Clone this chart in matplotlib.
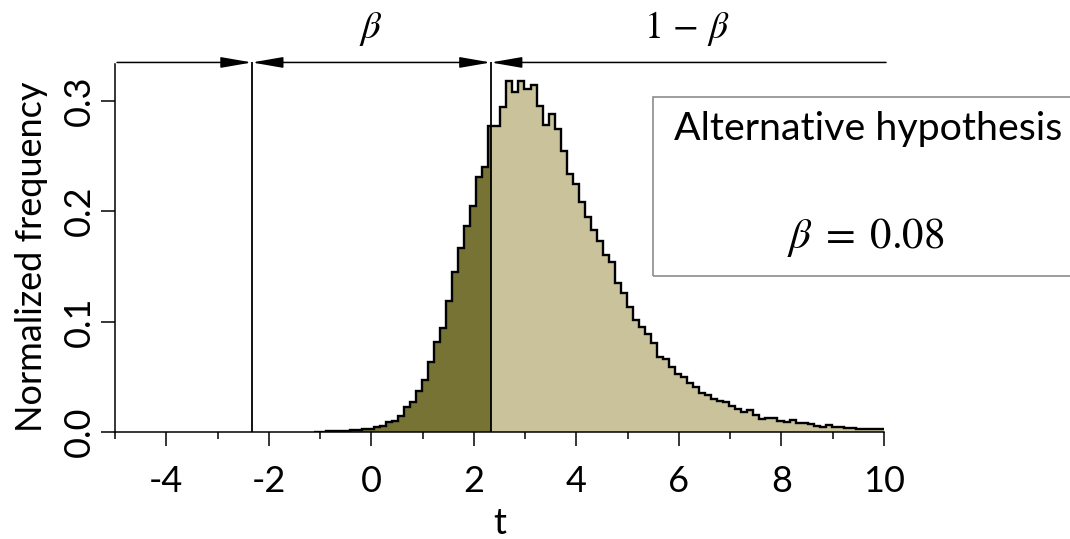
import numpy as np
import matplotlib
matplotlib.use("Agg")
import matplotlib.pyplot as plt
from matplotlib.patches import Rectangle

# ---- data ----
bin_start = -1.125
bin_width = 0.1175
freq = [0.0003, 0.0003, 0.0005, 0.0005, 0.0008, 0.0008,
        0.0015, 0.0015, 0.0024, 0.0024,
        0.0048, 0.0050, 0.0088, 0.0103, 0.0145, 0.0224, 0.0275, 0.0375, 0.0471, 0.0635,
        0.0819, 0.0946, 0.1188, 0.1451, 0.1665, 0.1868, 0.2043, 0.2306, 0.2400,
        0.2768, 0.2768, 0.2940, 0.3176, 0.3080, 0.3176, 0.3110, 0.3140, 0.2956, 0.2777,
        0.2880, 0.2744, 0.2550, 0.2339, 0.2251, 0.2088, 0.1952, 0.1834, 0.1734,
        0.1605, 0.1544, 0.1354, 0.1263, 0.1136, 0.1015, 0.0955, 0.0888, 0.0810, 0.0677,
        0.0659, 0.0587, 0.0523, 0.0502, 0.0447, 0.0411, 0.0351, 0.0333, 0.0302, 0.0278,
        0.0275, 0.0236, 0.0205, 0.0178, 0.0199, 0.0154, 0.0115, 0.0130, 0.0124, 0.0103,
        0.0094, 0.0109, 0.0079, 0.0082, 0.0073, 0.0057, 0.0042, 0.0060, 0.0045, 0.0042,
        0.0033, 0.0033, 0.0030, 0.0030, 0.0030, 0.0024, 0.0024]
edges = bin_start + bin_width * np.arange(len(freq) + 1)
t_crit = 2.33
x_ticks = [-4, -2, 0, 2, 4, 6, 8, 10]
x_ticklabels = ["-4", "-2", "0", "2", "4", "6", "8", "10"]
x_minor = [-5, -3, -1, 1, 3, 5, 7, 9]
y_ticks = [0.0, 0.1, 0.2, 0.3]
y_ticklabels = ["0.0", "0.1", "0.2", "0.3"]
xlim = (-5, 10)
ylim = (0, 0.3334)
label_beta = r"$\beta$"
label_power = r"$1\,-\,\beta$"
legend_title = "Alternative hypothesis"
legend_value = r"$\beta\;=\;0.08$"

plt.rcParams['font.family'] = ['Lato', 'DejaVu Sans']
plt.rcParams['mathtext.fontset'] = 'stix'
plt.rcParams['axes.unicode_minus'] = False

fig = plt.figure(figsize=(10.7, 5.39), dpi=100)
W, H = 1070, 539
ax = fig.add_axes([115 / W, 1 - 432 / H, (884 - 115) / W, (432 - 64) / H])

light_c = '#C9C29B'
dark_c = '#777335'
ax.stairs(freq, edges, fill=True, color=light_c, lw=0, zorder=1)
dk = ax.stairs(freq, edges, fill=True, color=dark_c, lw=0, zorder=2)
dk.set_clip_path(Rectangle((-10, -1), t_crit + 10, 3, transform=ax.transData))
ax.stairs(freq, edges, color='black', lw=1.7, zorder=3)

ax.set_xlim(*xlim)
ax.set_ylim(*ylim)

ya = 0.3348
ax.vlines([-t_crit, t_crit], 0, ya, colors='black', lw=1.3, zorder=4, clip_on=False)

arrow_kw = dict(lw=1.1, color='black', shrinkA=0, shrinkB=0)
ax.annotate('', xy=(-t_crit, ya), xytext=(-4.96, ya), annotation_clip=False,
            arrowprops=dict(arrowstyle='-|>,head_length=1.9,head_width=0.33', **arrow_kw))
ax.annotate('', xy=(t_crit, ya), xytext=(-t_crit, ya), annotation_clip=False,
            arrowprops=dict(arrowstyle='<|-|>,head_length=1.9,head_width=0.33', **arrow_kw))
ax.annotate('', xy=(t_crit, ya), xytext=(10.04, ya), annotation_clip=False,
            arrowprops=dict(arrowstyle='-|>,head_length=1.9,head_width=0.33', **arrow_kw))

fig.text(371 / W, 1 - 38 / H, label_beta, ha='center', va='baseline', fontsize=28)
fig.text(687 / W, 1 - 38 / H, label_power, ha='center', va='baseline', fontsize=27)

# legend box
box = Rectangle((653 / W, 1 - 276 / H), (1080 - 653) / W, (276 - 97) / H,
                transform=fig.transFigure, fill=False, edgecolor='#8c8c8c', lw=1.2,
                clip_on=False)
fig.add_artist(box)
fig.text(868 / W, 1 - 140 / H, legend_title, ha='center', va='baseline', fontsize=28.4)
fig.text(866 / W, 1 - 248 / H, legend_value, ha='center', va='baseline', fontsize=31)

for s in ['top', 'right']:
    ax.spines[s].set_visible(False)
for s in ['left', 'bottom']:
    ax.spines[s].set_linewidth(1.1)

ax.set_xticks(x_ticks)
ax.set_xticklabels(x_ticklabels)
ax.set_xticks(x_minor, minor=True)
ax.set_yticks(y_ticks)
ax.set_yticklabels(y_ticklabels, rotation=90, va='center')
ax.tick_params(axis='both', which='major', direction='out', length=10, width=1.1,
               labelsize=26, colors='black')
ax.tick_params(axis='x', which='minor', direction='out', length=5, width=1.1)
ax.tick_params(axis='x', which='major', pad=14)
ax.tick_params(axis='y', which='major', pad=4)
ax.set_xlabel('t', fontsize=26, labelpad=6)
ax.set_ylabel('Normalized frequency', fontsize=26)
ax.yaxis.set_label_coords(-0.087, 0.475)

fig.savefig('out.png', dpi=100)
